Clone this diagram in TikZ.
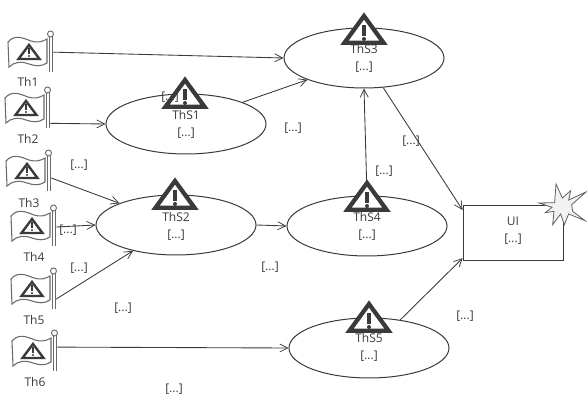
\documentclass[tikz,border=0pt]{standalone}
\usepackage{fontspec}
\setmainfont{Open Sans}
\usetikzlibrary{arrows.meta,shapes.geometric}
\definecolor{ink}{HTML}{3A3A3A}
\definecolor{flagline}{HTML}{6A6A6A}
\tikzset{
  x=0.75pt,y=-0.75pt,
  txt/.style={font=\fontsize{9}{12.75}\selectfont,text=ink,inner sep=0pt,align=center},
  flagnode/.style={inner sep=0pt,minimum width=36pt,minimum height=33pt},
  state/.style={ellipse,draw=ink,line width=0.75pt,fill=white,inner sep=0pt,minimum width=120pt,minimum height=45pt},
  uibox/.style={rectangle,draw=ink,line width=0.65pt,fill=white,inner sep=0pt,minimum width=75pt,minimum height=41.25pt},
  link/.style={draw=ink,line width=0.65pt,-{Straight Barb[length=6pt,width=6pt,line width=0.55pt]}},
}
\newcommand{\flagat}[1]{%
  \begin{scope}[shift={(#1.center)}]
    \draw[flagline,line width=0.8pt,fill=white] (-21,-14) .. controls (-14,-22) and (-6,-18) .. (2,-15) .. controls (8,-13) and (13,-14) .. (18,-17) -- (18,7) .. controls (12,11) and (6,10) .. (0,8) .. controls (-8,5) and (-15,6) .. (-20,11) -- cycle;
    \draw[ink,line width=1.8pt,line join=miter] (0,-11) -- (10.5,3) -- (-10.5,3) -- cycle;
    \fill[ink] (-1.2,-7.5) rectangle (1.2,-2);
    \fill[ink] (0,0) circle (1.2);
    \draw[flagline,line width=0.7pt] (20,-20) -- (20,16) (23,-20) -- (23,16);
    \draw[flagline,line width=0.7pt,fill=white] (21.5,-22) circle (3);
  \end{scope}}
\newcommand{\warnat}[2]{%
  \begin{scope}[shift={(#1,#2)}]
    \draw[ink,line width=3.2pt,line join=miter,fill=white] (0,6) -- (19.5,32.7) -- (-19.5,32.7) -- cycle;
    \fill[ink] (-2.2,15) rectangle (2.2,26);
    \fill[ink] (0,29) circle (2);
  \end{scope}}
\begin{document}
\begin{tikzpicture}
\useasboundingbox (0,0) rectangle (587,395);
\fill[white] (0,0) rectangle (587,395);
% flags
\node[flagnode] (t1) at (29,56) {};
\node[flagnode] (t2) at (26,112) {};
\node[flagnode] (t3) at (27,175) {};
\node[flagnode] (t4) at (32,230) {};
\node[flagnode] (t5) at (32,293) {};
\node[flagnode] (t6) at (33,355) {};
\flagat{t1}\flagat{t2}\flagat{t3}\flagat{t4}\flagat{t5}\flagat{t6}
\node[txt] (l1) at (28,82) {Th1};
\node[txt] (l2) at (28,139) {Th2};
\node[txt] (l3) at (29,203) {Th3};
\node[txt] (l4) at (34,257) {Th4};
\node[txt] (l5) at (34,320) {Th5};
\node[txt] (l6) at (35,382) {Th6};
% states
\node[state] (s1) at (186,124) {};
\node[state] (s2) at (176,225) {};
\node[state] (s3) at (364,58) {};
\node[state] (s4) at (367,226) {};
\node[state] (s5) at (369,348) {};
\node[uibox] (ui) at (513,232.5) {};
% connectors
\draw[link] (t1.9) -- (s3.west);
\draw[link] (t2.-25) -- (s1.west);
\draw[link] (t3.-7) -- (s2.159);
\draw[link] (t4.7) -- (s2.west);
\draw[link] (t5.-14) -- (s2.211);
\draw[link] (t6.18) -- (s5.west);
\draw[link] (s1.21) -- (s3.201);
\draw[link] (s2.east) -- (s4.west);
\draw[link] (s4.north) -- (s3.south);
\draw[link] (s3.303) -- (ui.156);
\draw[link] (s5.42) -- (ui.207);
% warnings
\warnat{364}{10}\warnat{185}{74}\warnat{175}{175}\warnat{367}{177}\warnat{369}{298}
% star
\begin{scope}[shift={(530,178)},x=0.25pt,y=-0.25pt]
\draw[ink!80,line width=0.6pt,fill=white!95!black,line join=miter,miter limit=20] (27,75) -- (74,74) -- (78,18) -- (97,60) -- (122,38) -- (116,66) -- (168,42) -- (125,80) -- (128,100) -- (165,128) -- (116,108) -- (103,140) -- (92,108) -- (68,140) -- (72,100) -- (46,104) -- (66,88) -- cycle;
\end{scope}
% labels
\node[txt] at (186,124) {ThS1\\{[...]}};
\node[txt] at (176,226) {ThS2\\{[...]}};
\node[txt] at (364,58.5) {ThS3\\{[...]}};
\node[txt] at (367,226.5) {ThS4\\{[...]}};
\node[txt] at (369,347.5) {ThS5\\{[...]}};
\node[txt] at (513,231) {UI\\{[...]}};
\node[txt] (n1) at (170,97) {[...]};
\node[txt] (n2) at (79,165) {[...]};
\node[txt] (n3) at (68,230) {[...]};
\node[txt] (n4) at (79,268) {[...]};
\node[txt] (n5) at (123,308) {[...]};
\node[txt] (n6) at (174,389) {[...]};
\node[txt] (n7) at (270,267) {[...]};
\node[txt] (n8) at (293,128) {[...]};
\node[txt] (n9) at (411,141) {[...]};
\node[txt] (n10) at (384,171) {[...]};
\node[txt] (n11) at (465,316) {[...]};
\end{tikzpicture}
\end{document}
